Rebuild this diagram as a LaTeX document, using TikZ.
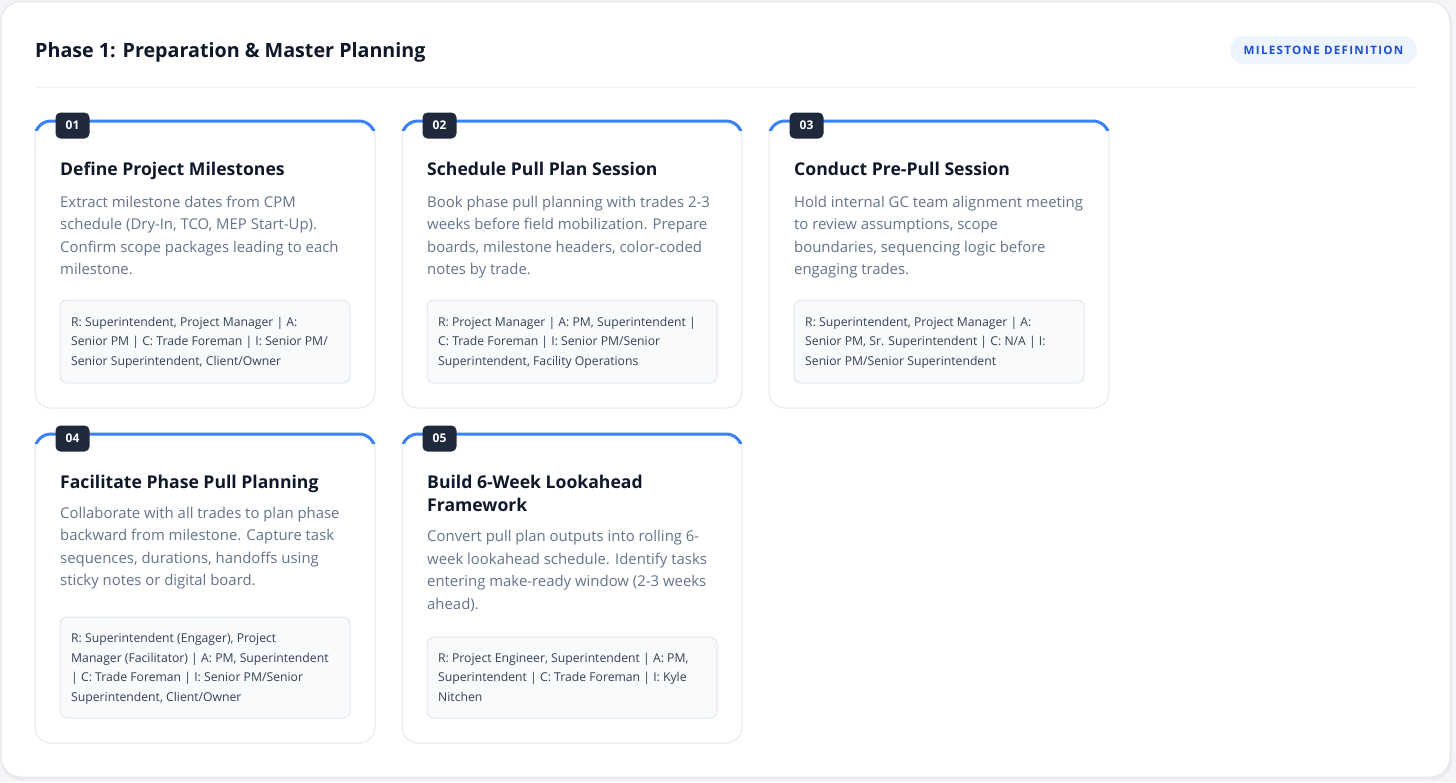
\documentclass[tikz,border=0pt]{standalone}
\usepackage{fontspec}
\setmainfont{Open Sans}
\usetikzlibrary{positioning}

\definecolor{pagebg}{HTML}{F4F5F7}
\definecolor{panelline}{HTML}{E3E6EB}
\definecolor{shadowc}{HTML}{E9EBEF}
\definecolor{sepc}{HTML}{EEF1F5}
\definecolor{cardline}{HTML}{E2E8F0}
\definecolor{accent}{HTML}{3B82F6}
\definecolor{navy}{HTML}{1E293B}
\definecolor{ink}{HTML}{0F172A}
\definecolor{slate}{HTML}{64748B}
\definecolor{raci}{HTML}{334155}
\definecolor{boxfill}{HTML}{F8FAFC}
\definecolor{pillfill}{HTML}{EEF4FE}
\definecolor{pilltext}{HTML}{1D4ED8}

\tikzset{
  panel/.style={draw=panelline, fill=white, line width=1pt, rounded corners=20pt},
  card/.style={draw=cardline, fill=white, line width=1pt, rounded corners=16pt},
  topbar/.style={draw=accent, line width=3pt, rounded corners=16pt},
  numbadge/.style={fill=navy, text=white, rounded corners=5pt, minimum width=34pt,
    minimum height=26pt, inner sep=0pt, font=\fontsize{12}{14}\selectfont\bfseries},
  phasetitle/.style={anchor=base west, inner sep=0pt, text=ink,
    font=\fontsize{19.7}{24}\selectfont\bfseries},
  pill/.style={fill=pillfill, text=pilltext, rounded corners=14pt, minimum width=187pt,
    minimum height=28pt, inner sep=0pt,
    font=\fontsize{11.6}{13}\selectfont\bfseries\addfontfeatures{LetterSpace=11}},
  cardtitle/.style={anchor=base west, inner sep=0pt, text=ink, align=left,
    font=\fontsize{17.6}{23.4}\selectfont\bfseries},
  carddesc/.style={anchor=base west, inner sep=0pt, text=slate, align=left,
    font=\fontsize{14.9}{22.5}\selectfont},
  racibox/.style={draw=cardline, fill=boxfill, line width=1pt, rounded corners=7pt},
  racitext/.style={anchor=base west, inner sep=0pt, text=raci, align=left,
    font=\fontsize{12.2}{19.7}\selectfont},
}

\begin{document}
\begin{tikzpicture}[x=1pt, y=-1pt]
  \useasboundingbox (0,0) rectangle (1456,782);
  \fill[pagebg] (0,0) rectangle (1456,782);

  % outer panel
  \fill[shadowc, rounded corners=20pt] (1,3) rectangle (1452,780);
  \draw[panel] (1,1.5) rectangle (1450,777);

  % header
  \node[phasetitle] (phase) at (35,57) {Phase 1: Preparation \& Master Planning};
  \node[pill] (tag) at (1323.5,50) {MILESTONE DEFINITION};
  \draw[sepc, line width=1.2pt] (35,87.5) -- (1416,87.5);

  % card 01 (text nodes sit on the baseline of their last line)
  \draw[card] (35,121) rectangle (375,408);
  \begin{scope}
    \clip (30,115) rectangle (380,130);
    \draw[topbar] (35,121) rectangle (375,408);
  \end{scope}
  \node[numbadge] (n1) at (72.5,125.5) {01};
  \node[cardtitle] (t1) at (60,175) {Define Project Milestones};
  \node[carddesc] (d1) at (60,274.5) {Extract milestone dates from CPM\\
    schedule (Dry-In, TCO, MEP Start-Up).\\Confirm scope packages leading to each\\milestone.};
  \draw[racibox] (60,300) rectangle (350,383);
  \node[racitext] (r1) at (71,365.5) {R: Superintendent, Project Manager | A:\\
    Senior PM | C: Trade Foreman | I: Senior PM/\\Senior Superintendent, Client/Owner};

  % card 02
  \draw[card] (402,121) rectangle (742,408);
  \begin{scope}
    \clip (397,115) rectangle (747,130);
    \draw[topbar] (402,121) rectangle (742,408);
  \end{scope}
  \node[numbadge] (n2) at (439.5,125.5) {02};
  \node[cardtitle] (t2) at (427,175) {Schedule Pull Plan Session};
  \node[carddesc] (d2) at (427,274.5) {Book phase pull planning with trades 2-3\\
    weeks before field mobilization. Prepare\\boards, milestone headers, color-coded\\notes by trade.};
  \draw[racibox] (427,300) rectangle (717,383);
  \node[racitext] (r2) at (438,365.5) {R: Project Manager | A: PM, Superintendent |\\
    C: Trade Foreman | I: Senior PM/Senior\\Superintendent, Facility Operations};

  % card 03
  \draw[card] (769,121) rectangle (1109,408);
  \begin{scope}
    \clip (764,115) rectangle (1114,130);
    \draw[topbar] (769,121) rectangle (1109,408);
  \end{scope}
  \node[numbadge] (n3) at (806.5,125.5) {03};
  \node[cardtitle] (t3) at (794,175) {Conduct Pre-Pull Session};
  \node[carddesc] (d3) at (794,274.5) {Hold internal GC team alignment meeting\\
    to review assumptions, scope\\boundaries, sequencing logic before\\engaging trades.};
  \draw[racibox] (794,300) rectangle (1084,383);
  \node[racitext] (r3) at (805,365.5) {R: Superintendent, Project Manager | A:\\
    Senior PM, Sr. Superintendent | C: N/A | I:\\Senior PM/Senior Superintendent};

  % card 04
  \draw[card] (35,434) rectangle (375,743);
  \begin{scope}
    \clip (30,428) rectangle (380,443);
    \draw[topbar] (35,434) rectangle (375,743);
  \end{scope}
  \node[numbadge] (n4) at (72.5,438.5) {04};
  \node[cardtitle] (t4) at (60,488) {Facilitate Phase Pull Planning};
  \node[carddesc] (d4) at (60,585.5) {Collaborate with all trades to plan phase\\
    backward from milestone. Capture task\\sequences, durations, handoffs using\\sticky notes or digital board.};
  \draw[racibox] (60,617) rectangle (350,718);
  \node[racitext] (r4) at (71,701.5) {R: Superintendent (Engager), Project\\
    Manager (Facilitator) | A: PM, Superintendent\\| C: Trade Foreman | I: Senior PM/Senior\\
    Superintendent, Client/Owner};

  % card 05
  \draw[card] (402,434) rectangle (742,743);
  \begin{scope}
    \clip (397,428) rectangle (747,443);
    \draw[topbar] (402,434) rectangle (742,743);
  \end{scope}
  \node[numbadge] (n5) at (439.5,438.5) {05};
  \node[cardtitle] (t5) at (427,511.5) {Build 6-Week Lookahead\\Framework};
  \node[carddesc] (d5) at (427,609) {Convert pull plan outputs into rolling 6-\\
    week lookahead schedule. Identify tasks\\entering make-ready window (2-3 weeks\\ahead).};
  \draw[racibox] (427,637) rectangle (717,718);
  \node[racitext] (r5) at (438,701.5) {R: Project Engineer, Superintendent | A: PM,\\
    Superintendent | C: Trade Foreman | I: Kyle\\Nitchen};
\end{tikzpicture}
\end{document}
